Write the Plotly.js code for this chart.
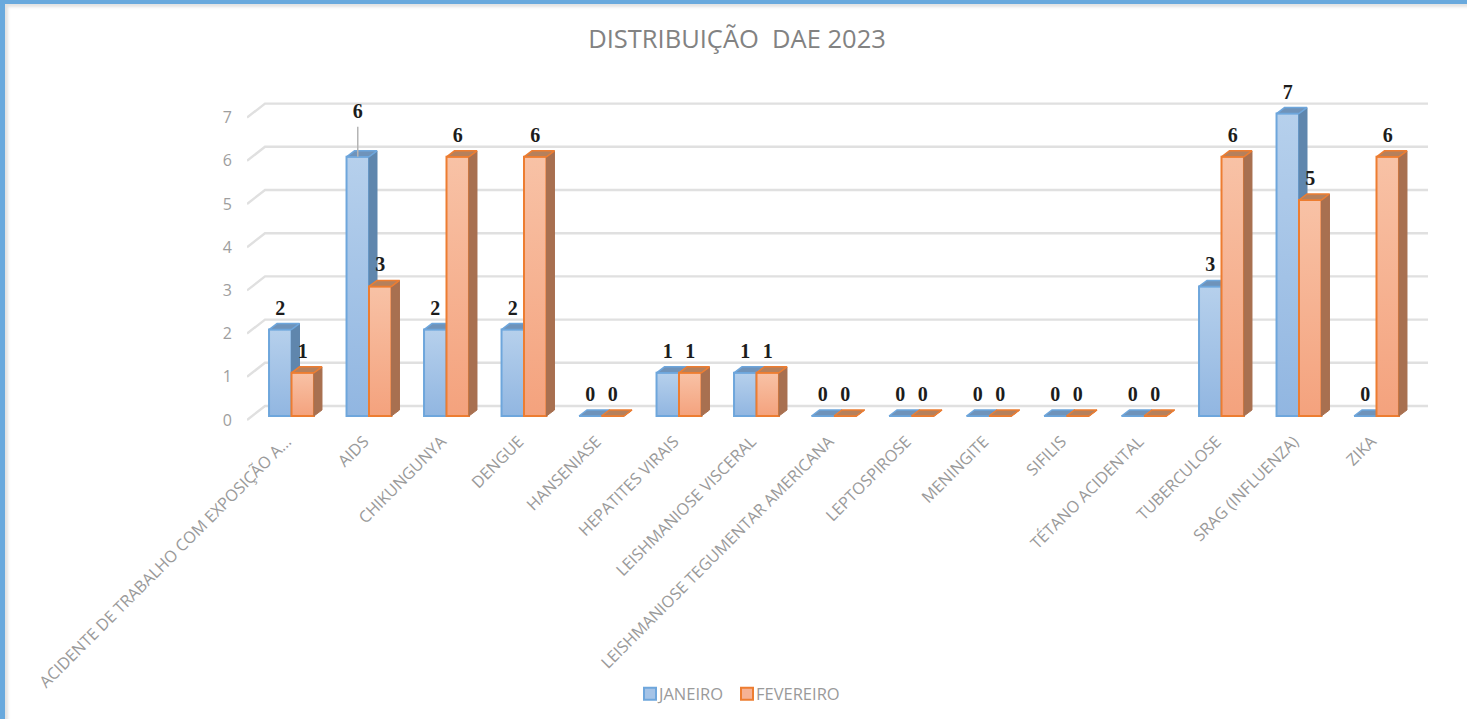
<!DOCTYPE html>
<html>
<head>
<meta charset="utf-8">
<script src="https://cdn.plot.ly/plotly-3.0.1.min.js"></script>
<style>
html,body{margin:0;padding:0;background:#fff;overflow:hidden}
#wrap{position:relative;width:1467px;height:719px}
#frame{position:absolute;left:0;top:0;width:1467px;height:719px;box-sizing:border-box;border-left:5px solid #69a9dd;border-top:4px solid #69a9dd;pointer-events:none;box-shadow:inset 3px 3px 3px #e2e2e2}
</style>
</head>
<body>
<div id="wrap"><div id="chart"></div><div id="frame"></div></div>
<script>
const categories = ["ACIDENTE DE TRABALHO COM EXPOSIÇÃO A...","AIDS","CHIKUNGUNYA","DENGUE","HANSENIASE","HEPATITES VIRAIS","LEISHMANIOSE VISCERAL","LEISHMANIOSE TEGUMENTAR AMERICANA","LEPTOSPIROSE","MENINGITE","SIFILIS","TÉTANO ACIDENTAL","TUBERCULOSE","SRAG (INFLUENZA)","ZIKA"];
const janeiro   = [2,6,2,2,0,1,1,0,0,0,0,0,3,7,0];
const fevereiro = [1,3,6,6,0,1,1,0,0,0,0,0,6,5,6];
const yTicks = [0,1,2,3,4,5,6,7];

// geometry of the pseudo-3D look (pixels per unit on each axis)
const W = 1467, H = 719;
const pxLeft = 247, pxRight = 1430, pxTop = 80, pxBottom = 421;
const cat0Px = 291.5, catStep = 77.5, basePx = 416, unitPx = 43.2;
const barW = 0.29, depthX = 8/catStep, depthY = 6/unitPx;
const xRange = [(pxLeft-cat0Px)/catStep, (pxRight-cat0Px)/catStep];
const yRange = [(basePx-pxBottom)/unitPx, (basePx-pxTop)/unitPx];
const xs = categories.map((_, i) => i);

// back wall lines
const wallX0 = (265-cat0Px)/catStep, wallX1 = (1428-cat0Px)/catStep, frontX = (247-cat0Px)/catStep;
const wallDy = 10/unitPx, frontDy = -4/unitPx;
const gridX = [], gridY = [];
yTicks.forEach(v => { gridX.push(frontX, wallX0, wallX1, null); gridY.push(v+frontDy, v+wallDy, v+wallDy, null); });

function faces(vals, start) {
  const sx = [], sy = [], tx = [], ty = [];
  vals.forEach((v, i) => {
    const l = i+start, r = l+barW;
    sx.push(r, r+depthX, r+depthX, r, r, null);
    sy.push(0, depthY, v+depthY, v, 0, null);
    tx.push(l, l+depthX, r+depthX, r, l, null);
    ty.push(v, v+depthY, v+depthY, v, v, null);
  });
  return {sx, sy, tx, ty};
}
function seriesTraces(name, vals, start, ax, ay, c) {
  const f = faces(vals, start);
  return [
    {type:'bar', name, x:xs, y:vals, xaxis:ax, yaxis:ay, width:barW, offset:start,
     marker:{color:c.mid, line:{color:c.line, width:2}}, showlegend:true, hoverinfo:'y+name'},
    {type:'scatter', mode:'lines', x:f.sx, y:f.sy, xaxis:ax, yaxis:ay, fill:'toself', fillcolor:c.side,
     line:{color:c.side, width:1}, showlegend:false, hoverinfo:'skip'},
    {type:'scatter', mode:'lines', x:f.tx, y:f.ty, xaxis:ax, yaxis:ay, fill:'toself', fillcolor:c.top,
     line:{color:c.line, width:1.5}, showlegend:false, hoverinfo:'skip'}
  ];
}
const blue = {mid:'#a4c3e7', line:'#6ea6dc', side:'#5f86ad', top:'#6f93ba'};
const orange = {mid:'#f6b294', line:'#ed7d31', side:'#a87050', top:'#b5805c'};

const labelGap = 20/unitPx;
const labelX = [], labelY = [], labelT = [];
janeiro.forEach((v,i) => { labelX.push(i-barW/2); labelY.push(v+labelGap+(i===1?24/unitPx:0)); labelT.push(String(v)); });
fevereiro.forEach((v,i) => { labelX.push(i+barW/2); labelY.push(v+labelGap); labelT.push(String(v)); });

const traces = [
  {type:'scatter', mode:'lines', x:gridX, y:gridY, xaxis:'x', yaxis:'y', line:{color:'#e0e0e0', width:2.4},
   showlegend:false, hoverinfo:'skip'},
  ...seriesTraces('JANEIRO', janeiro, -barW, 'x2', 'y2', blue),
  ...seriesTraces('FEVEREIRO', fevereiro, 0, 'x3', 'y3', orange),
  {type:'scatter', mode:'lines', x:[1-barW/2,1-barW/2], y:[6,6+30/unitPx], xaxis:'x3', yaxis:'y3',
   line:{color:'#b5b5b5', width:1.5}, showlegend:false, hoverinfo:'skip'},
  {type:'scatter', mode:'text', x:labelX, y:labelY, text:labelT, xaxis:'x3', yaxis:'y3', cliponaxis:false,
   textposition:'middle center', textfont:{family:'"Liberation Serif", serif', size:20, color:'#1c1c1c', weight:700},
   showlegend:false, hoverinfo:'skip'}
];
const hiddenX = {overlaying:'x', range:xRange, visible:false, fixedrange:true};
const hiddenY = {overlaying:'y', range:yRange, visible:false, fixedrange:true};
const layout = {
  width:W, height:H, autosize:false,
  margin:{l:pxLeft, r:W-pxRight, t:pxTop, b:H-pxBottom, pad:0},
  paper_bgcolor:'#ffffff', plot_bgcolor:'rgba(0,0,0,0)',
  font:{family:'"Open Sans", sans-serif', color:'#8c8c8c'},
  title:{text:'DISTRIBUIÇÃO\u00a0 DAE 2023', x:737/W, xref:'container', xanchor:'center', y:1-39/H, yref:'container', yanchor:'middle',
         font:{family:'"Open Sans", sans-serif', size:25.5, color:'#828282'}},
  barmode:'overlay',
  xaxis:{range:xRange, tickmode:'array', tickvals:xs, ticktext:categories, tickangle:-45, showgrid:false, zeroline:false,
         showline:false, ticks:'', tickfont:{size:16.2, color:'#9a9a9a'}, ticklabelstandoff:7, ticklabelshift:-5, fixedrange:true, automargin:false},
  yaxis:{range:yRange, tickmode:'array', tickvals:yTicks, showgrid:false, zeroline:false, showline:false, ticks:'',
         tickfont:{size:16, color:'#9e9e9e'}, ticklabelstandoff:14, ticklabelshift:4, fixedrange:true, automargin:false},
  xaxis2:hiddenX, yaxis2:hiddenY, xaxis3:hiddenX, yaxis3:hiddenY,
  showlegend:true,
  legend:{orientation:'h', xref:'container', yref:'container', x:727/W, xanchor:'center', y:1-694/H, yanchor:'middle', font:{size:16.5, color:'#9a9a9a'},
          itemwidth:30, entrywidth:52, entrywidthmode:'pixels', traceorder:'normal', bgcolor:'rgba(0,0,0,0)', itemclick:false, itemdoubleclick:false}
};
function finish(gd) {
  const svg = gd.querySelector('svg.main-svg');
  const ns = 'http://www.w3.org/2000/svg';
  const defs = svg.querySelector('defs') || svg.insertBefore(document.createElementNS(ns,'defs'), svg.firstChild);
  const mk = (id,a,b) => {
    const g = document.createElementNS(ns,'linearGradient');
    g.id = id; g.setAttribute('x1','0'); g.setAttribute('y1','0'); g.setAttribute('x2','0'); g.setAttribute('y2','1');
    [[0,a],[1,b]].forEach(s => { const st = document.createElementNS(ns,'stop'); st.setAttribute('offset',s[0]); st.setAttribute('stop-color',s[1]); g.appendChild(st); });
    defs.appendChild(g);
  };
  mk('gradJan','#b6d0ec','#91b6e1');
  mk('gradFev','#f8c2a6','#f4a27d');
  const bars = gd.querySelectorAll('.barlayer .trace.bars');
  ['gradJan','gradFev'].forEach((id,k) => {
    if (bars[k]) bars[k].querySelectorAll('path').forEach(p => { p.style.fill = 'url(#'+id+')'; });
  });
  // pull the legend text closer to its swatch and let it overrun the entry width
  gd.querySelectorAll('.legend .legendtext').forEach(t => {
    t.setAttribute('x', Number(t.getAttribute('x')) - 11);
  });
  const box = gd.querySelector('.legend .scrollbox');
  if (box) box.removeAttribute('clip-path');
}
Plotly.newPlot('chart', traces, layout, {displayModeBar:false, responsive:false}).then(finish);
</script>
</body>
</html>
